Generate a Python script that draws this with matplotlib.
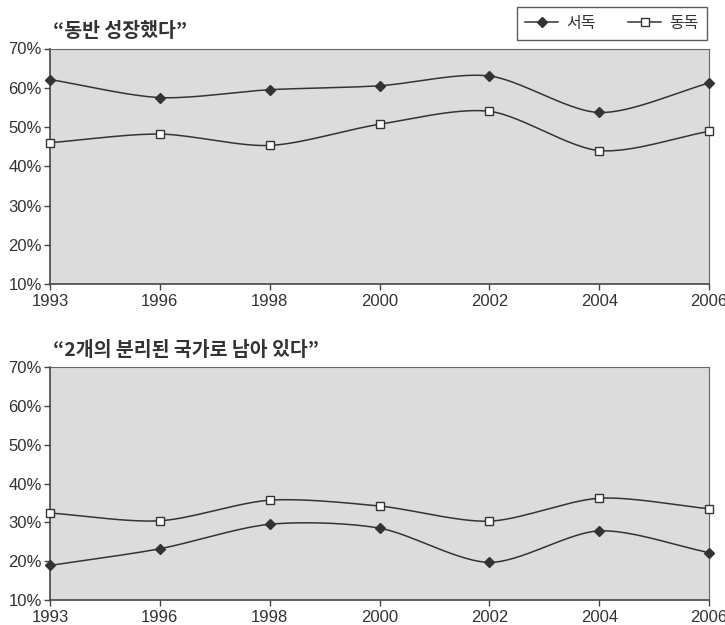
import numpy as np
import matplotlib
matplotlib.use("Agg")
import matplotlib.pyplot as plt
from matplotlib.lines import Line2D

plt.rcParams['font.family'] = ['Liberation Sans', 'Noto Sans CJK KR', 'DejaVu Sans']

years = ["1993", "1996", "1998", "2000", "2002", "2004", "2006"]
west_grew = [62.1, 57.5, 59.5, 60.5, 63.0, 53.7, 61.2]
east_grew = [46.0, 48.2, 45.3, 50.7, 54.0, 44.0, 48.9]
west_separate = [18.9, 23.2, 29.5, 28.5, 19.7, 27.8, 22.2]
east_separate = [32.4, 30.4, 35.7, 34.2, 30.3, 36.2, 33.5]
titles = ["“동반 성장했다”", "“2개의 분리된 국가로 남아 있다”"]
series_names = ["서독", "동독"]
yticks = [10, 20, 30, 40, 50, 60, 70]

TXT = "#333333"
LINE = "#333333"
KR = ['Noto Sans CJK KR', 'DejaVu Sans']


def smooth(x, y, n=30):
    """Cardinal curve through the points, like a smoothed line chart."""
    x = np.asarray(x, float)
    y = np.asarray(y, float)
    px = np.concatenate([[2 * x[0] - x[1]], x, [2 * x[-1] - x[-2]]])
    py = np.concatenate([[2 * y[0] - y[1]], y, [2 * y[-1] - y[-2]]])
    xs, ys = [], []
    t = np.linspace(0, 1, n, endpoint=False)
    for i in range(1, len(px) - 2):
        p0, p1, p2, p3 = (np.array([px[j], py[j]]) for j in range(i - 1, i + 3))
        m1 = (p2 - p0) / 2 * 0.85
        m2 = (p3 - p1) / 2 * 0.85
        h00 = 2 * t**3 - 3 * t**2 + 1
        h10 = t**3 - 2 * t**2 + t
        h01 = -2 * t**3 + 3 * t**2
        h11 = t**3 - t**2
        pts = np.outer(h00, p1) + np.outer(h10, m1) + np.outer(h01, p2) + np.outer(h11, m2)
        xs.extend(pts[:, 0])
        ys.extend(pts[:, 1])
    xs.append(x[-1])
    ys.append(y[-1])
    return np.array(xs), np.array(ys)


fig = plt.figure(figsize=(7.25, 6.25), dpi=100)
ax_top = fig.add_axes([0.069, 0.5456, 0.909, 0.3768])
ax_bot = fig.add_axes([0.069, 0.04, 0.909, 0.3728])

xpos = np.arange(len(years))
panels = [(ax_top, west_grew, east_grew), (ax_bot, west_separate, east_separate)]

for ax, west, east in panels:
    ax.set_facecolor("#dcdcdc")
    for vals, marker, face in [(west, "D", LINE), (east, "s", "white")]:
        sx, sy = smooth(xpos, vals)
        ax.plot(sx, sy, color=LINE, lw=1.1, zorder=2)
        ax.plot(xpos, vals, linestyle="none", marker=marker, markersize=6 if marker == "s" else 5.5,
                markerfacecolor=face, markeredgecolor=LINE, markeredgewidth=1.0, zorder=3,
                clip_on=False)
    ax.set_xlim(0, len(years) - 1)
    ax.set_ylim(10, 70)
    ax.set_xticks(xpos)
    ax.set_xticklabels(years)
    ax.set_yticks(yticks)
    ax.set_yticklabels([f"{v}%" for v in yticks])
    ax.tick_params(axis="both", direction="out", length=4, width=1, color="#444444",
                   labelsize=12, labelcolor=TXT, pad=2)
    ax.tick_params(axis="x", pad=3)
    for side in ["left", "bottom"]:
        ax.spines[side].set_color("#444444")
        ax.spines[side].set_linewidth(1.2)
    for side in ["right", "top"]:
        ax.spines[side].set_color("#666666")
        ax.spines[side].set_linewidth(0.8)

fig.text(0.073, 0.949, titles[0], fontsize=14, color=TXT, va="center", ha="left",
         family=KR, fontweight="bold")
fig.text(0.073, 0.44, titles[1], fontsize=14, color=TXT, va="center", ha="left",
         family=KR, fontweight="bold")

handles = [
    Line2D([], [], color=LINE, lw=1.1, marker="D", markersize=5.5,
           markerfacecolor=LINE, markeredgecolor=LINE),
    Line2D([], [], color=LINE, lw=1.1, marker="s", markersize=6,
           markerfacecolor="white", markeredgecolor=LINE),
]
leg = fig.legend(handles, series_names, loc="upper right", bbox_to_anchor=(0.975, 0.989),
                 ncol=2, frameon=True, fancybox=False, handlelength=2.1, handletextpad=0.5,
                 columnspacing=2.0, borderpad=0.5, borderaxespad=0,
                 prop={'family': KR, 'size': 11.5})
leg.get_frame().set_edgecolor("#333333")
leg.get_frame().set_linewidth(1.0)
for t in leg.get_texts():
    t.set_color(TXT)

fig.savefig("out.png", dpi=100, facecolor="white")
